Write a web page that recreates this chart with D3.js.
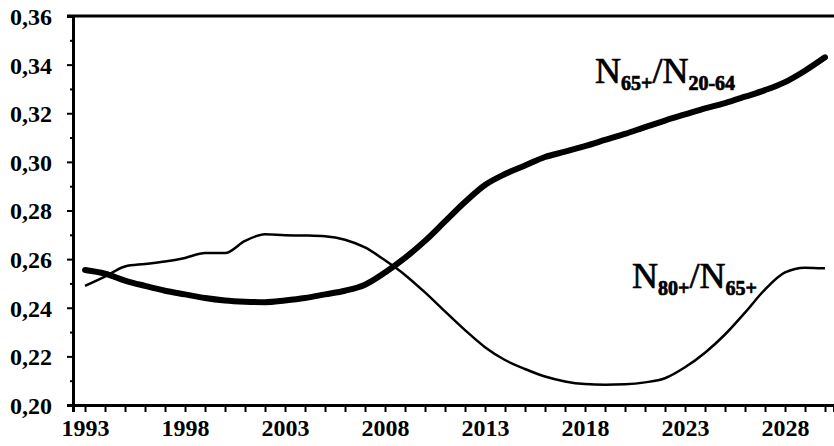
<!DOCTYPE html>
<html>
<head>
<meta charset="utf-8">
<script src="https://cdn.jsdelivr.net/npm/d3@7"></script>
<style>
  body { margin: 0; background: #fff; }
  text { font-family: "Liberation Serif", "Times New Roman", serif; }
</style>
</head>
<body>
<div id="chart"></div>
<script>
// years on the x axis
var years = d3.range(1993, 2031);

// N65+/N20-64 (thick line)
var oldAgeRatio = [0.2555, 0.254, 0.2512, 0.249, 0.247, 0.2455, 0.244, 0.243, 0.2425, 0.2423,
  0.243, 0.244, 0.2455, 0.247, 0.2495, 0.2545, 0.2605, 0.2675, 0.2755, 0.2835,
  0.2905, 0.295, 0.2985, 0.302, 0.3042, 0.3065, 0.309, 0.3115, 0.3143, 0.317,
  0.3195, 0.322, 0.3242, 0.3268, 0.3295, 0.3328, 0.3375, 0.343];

// N80+/N65+ (thin line)
var oldestRatio = [0.249, 0.2528, 0.257, 0.258, 0.259, 0.2605, 0.2625, 0.2625, 0.2675, 0.2702,
  0.2698, 0.2697, 0.2694, 0.268, 0.2648, 0.2595, 0.2535, 0.2463, 0.2385, 0.2308,
  0.2238, 0.2185, 0.2148, 0.2117, 0.2097, 0.2086, 0.2083, 0.2085, 0.2093, 0.211,
  0.2155, 0.2215, 0.229, 0.238, 0.2475, 0.2545, 0.2565, 0.2562];

var yTicks = [0.20, 0.22, 0.24, 0.26, 0.28, 0.30, 0.32, 0.34, 0.36];
var xTicks = [1993, 1998, 2003, 2008, 2013, 2018, 2023, 2028];

var width = 834, height = 446;
var margin = {top: 16, right: 0, bottom: 41, left: 73};

var svg = d3.select("#chart")
    .append("svg")
    .attr("width", width)
    .attr("height", height);

var x = d3.scaleLinear()
    .domain([1992.4, 2030.45])
    .range([margin.left, width - margin.right]);

var y = d3.scaleLinear()
    .domain([0.20, 0.36])
    .range([height - margin.bottom, margin.top]);

var fmt = function(d) { return d3.format(".2f")(d).replace(".", ","); };

// y axis: major ticks with labels, minor ticks in between
var yAxis = svg.append("g")
    .attr("transform", "translate(" + margin.left + ",0)")
    .call(d3.axisLeft(y).tickValues(yTicks).tickFormat(fmt).tickSize(6).tickPadding(15));
yAxis.selectAll(".tick text")
    .style("font-size", "24px")
    .style("font-weight", "bold")
    .attr("dy", "0.35em");
svg.append("g")
    .attr("transform", "translate(" + margin.left + ",0)")
    .call(d3.axisLeft(y).tickValues(d3.range(0.21, 0.36, 0.02)).tickFormat("").tickSize(3))
    .select(".domain").remove();

// x axis: a tick every year, label every 5 years
var xAxis = svg.append("g")
    .attr("transform", "translate(0," + y(0.20) + ")")
    .call(d3.axisBottom(x).tickValues(years).tickSize(7).tickPadding(7)
      .tickFormat(function(d) { return xTicks.indexOf(d) >= 0 ? d : ""; }));
xAxis.selectAll(".tick text")
    .style("font-size", "24px")
    .style("font-weight", "bold");

svg.selectAll(".domain").attr("stroke-width", 3);
svg.selectAll(".tick line").attr("stroke-width", 2);

// top frame line
svg.append("line")
    .attr("x1", margin.left - 6).attr("x2", width)
    .attr("y1", y(0.36)).attr("y2", y(0.36))
    .attr("stroke", "#000")
    .attr("stroke-width", 3);

var line = function(vals) {
  return d3.line()
    .x(function(d, i) { return x(years[i]); })
    .y(function(d) { return y(d); })
    .curve(d3.curveMonotoneX)(vals);
};

svg.append("path")
    .attr("d", line(oldestRatio))
    .attr("fill", "none")
    .attr("stroke", "#000")
    .attr("stroke-width", 2.5);

svg.append("path")
    .attr("d", line(oldAgeRatio))
    .attr("fill", "none")
    .attr("stroke", "#000")
    .attr("stroke-width", 6)
    .attr("stroke-linecap", "round");

// series labels
function label(xp, yp, a, b) {
  var t = svg.append("text")
      .attr("x", xp)
      .attr("y", yp)
      .attr("stroke", "#000")
      .attr("stroke-width", 0.7)
      .style("font-size", "36px");
  t.append("tspan").text("N");
  t.append("tspan").attr("dy", 7).style("font-size", "20px").style("font-weight", "bold").text(a);
  t.append("tspan").attr("dy", -7).text("/N");
  t.append("tspan").attr("dy", 7).style("font-size", "20px").style("font-weight", "bold").text(b);
}
label(595, 83, "65+", "20-64");
label(632, 288, "80+", "65+");
</script>
</body>
</html>
